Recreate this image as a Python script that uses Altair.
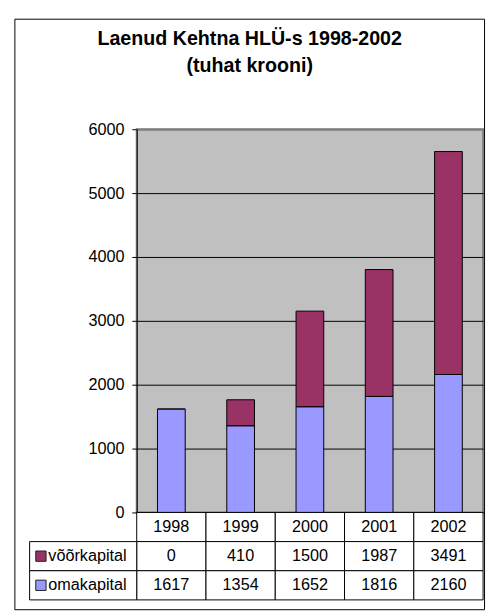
import altair as alt
import pandas as pd

# ---- data ----
years = ["1998", "1999", "2000", "2001", "2002"]
voorkapital = [0, 410, 1500, 1987, 3491]
omakapital = [1617, 1354, 1652, 1816, 2160]
series_names = ["võõrkapital", "omakapital"]
series_colors = ["#993366", "#9999ff"]
y_ticks = [0, 1000, 2000, 3000, 4000, 5000, 6000]
y_max = 6000
title_lines = ["Laenud Kehtna HLÜ-s 1998-2002", "(tuhat krooni)"]
row_keys = ["aasta", "võõrkapital", "omakapital"]

FONT = "Liberation Sans"
FS = 16.5
W, H = 352.5, 390

# ---- tables built from the arrays ----
values_by_series = {"võõrkapital": voorkapital, "omakapital": omakapital}
stack_order = {"omakapital": 0, "võõrkapital": 1}

bars_df = pd.DataFrame(
    [
        {"year": y, "series": s, "value": values_by_series[s][i], "order": stack_order[s]}
        for s in series_names
        for i, y in enumerate(years)
    ]
)

table_rows = [{"row": "aasta", "year": y, "text": y} for y in years]
for s in series_names:
    for i, y in enumerate(years):
        table_rows.append({"row": s, "year": y, "text": str(values_by_series[s][i])})
table_df = pd.DataFrame(table_rows)
series_df = pd.DataFrame({"row": series_names, "series": series_names})
frame_df = pd.DataFrame({"k": [0]})

# ---- scales ----
x_scale = alt.Scale(domain=years, paddingInner=0, paddingOuter=0)
y_scale = alt.Scale(domain=[0, y_max], nice=False, zero=True)
row_scale = alt.Scale(domain=row_keys, range=[H, H + 89], paddingInner=0, paddingOuter=0)
color_scale = alt.Scale(domain=series_names, range=series_colors)

X = alt.X("year:N", scale=x_scale, axis=None)

y_axis = alt.Axis(
    values=y_ticks,
    format="d",
    grid=True,
    gridColor={"condition": {"test": "datum.value >= 6000", "value": "#808080"}, "value": "black"},
    gridWidth={"condition": {"test": "datum.value >= 6000", "value": 2}, "value": 1},
    title=None,
    domainColor="black",
    domainWidth=1,
    tickColor="black",
    tickWidth=1,
    tickSize=5,
    labelFont=FONT,
    labelFontSize=FS,
    labelColor="black",
    labelPadding=8,
)

# outer chart-area border (decoration around the whole chart)
frame = alt.Chart(frame_df).mark_rect(fill="white", fillOpacity=0, stroke="black", strokeWidth=1).encode(
    x=alt.value(-124), x2=alt.value(354), y=alt.value(-112), y2=alt.value(489)
)

bars = alt.Chart(bars_df).mark_bar(
    width=alt.RelativeBandSize(0.4), stroke="black", strokeWidth=1
).encode(
    x=X,
    y=alt.Y("value:Q", stack="zero", scale=y_scale, axis=y_axis),
    color=alt.Color("series:N", scale=color_scale, legend=None),
    order=alt.Order("order:Q"),
)

plot_layer = alt.layer(frame, bars)

Y_ROW = alt.Y("row:N", scale=row_scale, axis=None)

cells = alt.Chart(table_df).mark_rect(fill="white", stroke="black", strokeWidth=1).encode(
    x=X, y=Y_ROW
)
label_cells = alt.Chart(series_df).mark_rect(fill="white", stroke="black", strokeWidth=1).encode(
    x=alt.value(-109), x2=alt.value(0), y=Y_ROW
)
cell_text = alt.Chart(table_df).mark_text(
    font=FONT, fontSize=FS, color="black", align="center", baseline="middle"
).encode(x=X, y=Y_ROW, text="text:N")
label_text = alt.Chart(series_df).mark_text(
    font=FONT, fontSize=FS, color="black", align="left", baseline="middle"
).encode(x=alt.value(-90), y=Y_ROW, text="row:N")
squares = alt.Chart(series_df).mark_square(
    size=110, filled=True, opacity=1, stroke="#222222", strokeWidth=1
).encode(
    x=alt.value(-97.5),
    y=Y_ROW,
    color=alt.Color("series:N", scale=color_scale, legend=None),
)

table_layer = alt.layer(cells, label_cells, cell_text, label_text, squares)

chart = (
    alt.layer(plot_layer, table_layer)
    .resolve_scale(y="independent")
    .properties(
        width=W,
        height=H,
        title=alt.TitleParams(
            text=title_lines,
            font=FONT,
            fontSize=20,
            fontWeight="bold",
            color="black",
            anchor="middle",
            frame="bounds",
            offset=-58,
            lineHeight=27,
        ),
        autosize=alt.AutoSizeParams(type="none"),
        padding={"left": 131, "top": 118, "right": 4, "bottom": 100},
    )
    .configure(font=FONT, background="white")
    .configure_view(stroke="#808080", strokeWidth=2, fill="#c0c0c0")
)

chart.save("out.html", embed_options={"renderer": "svg", "actions": False})
